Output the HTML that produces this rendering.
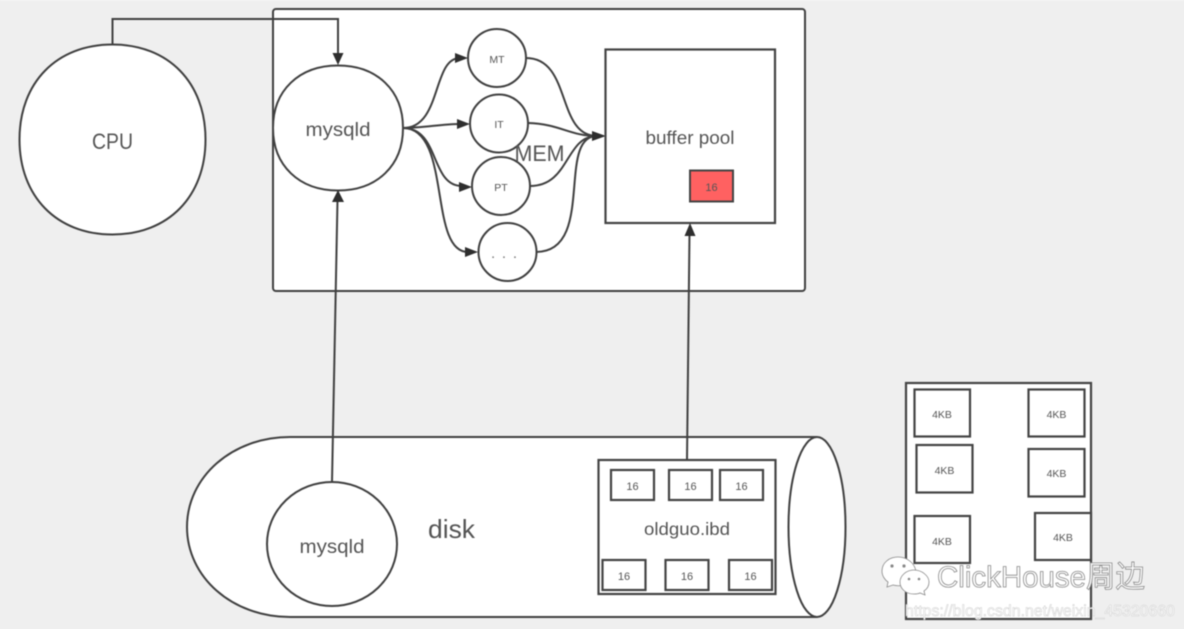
<!DOCTYPE html>
<html><head><meta charset="utf-8"><style>
html,body{margin:0;padding:0;background:#efefef;width:1184px;height:629px;overflow:hidden}
svg{display:block;filter:blur(.45px)}
text{font-family:"Liberation Sans","Noto Sans CJK SC",sans-serif;fill:#555;text-anchor:middle}
.s{fill:#fff;stroke:#404040;stroke-width:2}
.l{fill:none;stroke:#404040;stroke-width:2}
.b{fill:#fff;stroke:#444;stroke-width:2.2}
.a{fill:#2e2e2e;stroke:none}
</style></head><body>
<svg width="1184" height="629" viewBox="0 0 1184 629" xmlns="http://www.w3.org/2000/svg">
<rect x="0" y="0" width="1184" height="629" fill="#efefef"/>
<rect x="0" y="0" width="1184" height="1" fill="#f6f6f6"/>

<!-- memory frame -->
<rect class="s" x="273" y="9" width="532" height="282" rx="3" stroke-width="2.2"/>

<!-- CPU -->
<path class="s" d="M112.500 44.500C168.300 44.500 205.500 82.500 205.500 139.500C205.500 196.500 168.300 234.500 112.500 234.500C56.700 234.500 19.500 196.500 19.500 139.500C19.500 82.500 56.700 44.500 112.500 44.500Z"/>
<text x="112.500" y="149" font-size="22" textLength="41" lengthAdjust="spacingAndGlyphs">CPU</text>
<path class="l" d="M112.500 44V19H338V55"/>
<polygon class="a" points="338,65 332.500,53 343.500,53"/>

<!-- mysqld -->
<path class="s" d="M338 65.500C377 65.500 403 90.500 403 128C403 165.500 377 190.500 338 190.500C299 190.500 273 165.500 273 128C273 90.500 299 65.500 338 65.500Z"/>
<text x="338" y="136" font-size="19" textLength="65" lengthAdjust="spacingAndGlyphs">mysqld</text>

<!-- left curves -->
<path class="l" d="M403 128C442 128 432 58 460 58"/>
<path class="l" d="M403 128C425 128 440 124 460 124"/>
<path class="l" d="M403 128C440 128 430 186 462 186"/>
<path class="l" d="M403 128C452 128 428 252 468 252"/>
<polygon class="a" points="468,58 455,53 455,63"/>
<polygon class="a" points="470,124 457,119 457,129"/>
<polygon class="a" points="472,187 459,182 459,192"/>
<polygon class="a" points="478,252 465,247 465,257"/>

<!-- right curves -->
<path class="l" d="M526 58C572 58 556 136 597 136"/>
<path class="l" d="M528 123C560 124 570 136 597 136"/>
<path class="l" d="M530 186C570 186 565 136 597 136"/>
<path class="l" d="M536 252C596 252 556 136 597 136"/>
<polygon class="a" points="606,136 592,131 592,141"/>

<!-- thread circles -->
<circle class="s" cx="497" cy="58" r="29"/>
<text x="497" y="63" font-size="10.500">MT</text>
<circle class="s" cx="499" cy="123.500" r="29"/>
<text x="499" y="128" font-size="10.500">IT</text>
<circle class="s" cx="501" cy="186" r="29"/>
<text x="501" y="191" font-size="10.500">PT</text>
<circle class="s" cx="507.500" cy="252" r="29"/>
<text x="504" y="258" font-size="15" textLength="26" style="fill:#777">. . .</text>
<text x="539.500" y="161" font-size="22" textLength="50" lengthAdjust="spacingAndGlyphs">MEM</text>

<!-- buffer pool -->
<rect class="b" x="605.500" y="49.500" width="169.500" height="173.500"/>
<text x="690" y="144" font-size="18" textLength="89" lengthAdjust="spacingAndGlyphs">buffer pool</text>
<rect x="690" y="170.500" width="43" height="31" fill="#ff6161" stroke="#444" stroke-width="2"/>
<text x="711.500" y="191" font-size="11">16</text>

<!-- disk -->
<path class="s" d="M817 437H290C232 437 187 477 187 527C187 577 232 617 290 617H817"/>
<ellipse class="s" cx="817" cy="527" rx="28.500" ry="90"/>
<text x="451.500" y="538" font-size="26" textLength="47" lengthAdjust="spacingAndGlyphs">disk</text>

<ellipse class="s" cx="332" cy="544" rx="65" ry="62"/>
<text x="332" y="553" font-size="19" textLength="65" lengthAdjust="spacingAndGlyphs">mysqld</text>

<!-- oldguo -->
<rect class="b" x="598.500" y="460" width="177" height="134"/>
<text x="687" y="535" font-size="17.500" textLength="86" lengthAdjust="spacingAndGlyphs">oldguo.ibd</text>
<rect class="b" x="611" y="470" width="43" height="30"/><text x="632.500" y="490" font-size="11">16</text>
<rect class="b" x="669" y="470" width="43" height="30"/><text x="690.500" y="490" font-size="11">16</text>
<rect class="b" x="720" y="470" width="43" height="30"/><text x="741.500" y="490" font-size="11">16</text>
<rect class="b" x="602.500" y="560" width="43" height="30"/><text x="624" y="580" font-size="11">16</text>
<rect class="b" x="665.500" y="560" width="43" height="30"/><text x="687" y="580" font-size="11">16</text>
<rect class="b" x="729" y="560" width="43" height="30"/><text x="750.500" y="580" font-size="11">16</text>

<!-- vertical connectors -->
<path class="l" d="M332 482L337.500 200"/>
<polygon class="a" points="338,190 332,202 344,202"/>
<path class="l" d="M687 460L689.500 233"/>
<polygon class="a" points="690,223 684.500,236 695.500,236"/>

<!-- 4KB panel -->
<rect class="b" x="906" y="383" width="185" height="236"/>
<rect class="b" x="914.500" y="389.500" width="55.500" height="47"/><text x="942" y="418" font-size="10.500">4KB</text>
<rect class="b" x="1028.500" y="389.500" width="56" height="47"/><text x="1056.500" y="418" font-size="10.500">4KB</text>
<rect class="b" x="916.500" y="445" width="56" height="47.500"/><text x="944.500" y="474" font-size="10.500">4KB</text>
<rect class="b" x="1028.500" y="449" width="56" height="47.500"/><text x="1056.500" y="477" font-size="10.500">4KB</text>
<rect class="b" x="914.500" y="516" width="55.500" height="47"/><text x="942" y="545" font-size="10.500">4KB</text>
<rect class="b" x="1035" y="513" width="56" height="47"/><text x="1063" y="541" font-size="10.500">4KB</text>

<!-- watermark -->
<g fill="#fff" stroke="#8a8a8a" stroke-width=".8">
<path d="M898 557C889 557 882 563 882 571C882 576 885 580 888 582L887 587L893 585C897 586 902 586 905 584L916 572C915 563 907 557 898 557Z"/>
<path d="M914 570C906 570 900 576 900 582C900 589 906 594 914 594C916 594 918 594 920 593L925 595L924 591C927 589 929 586 929 582C929 576 922 570 914 570Z"/>
</g>
<circle cx="892" cy="566" r="1.600" fill="#888"/><circle cx="904" cy="566" r="1.600" fill="#888"/>
<circle cx="909" cy="579" r="1.300" fill="#888"/><circle cx="919" cy="579" r="1.300" fill="#888"/>
<text x="1041" y="587" font-size="30" textLength="208" lengthAdjust="spacingAndGlyphs" style="fill:#fff;stroke:#8a8a8a;stroke-width:.8">ClickHouse周边</text>
<text x="1040" y="616" font-size="16" textLength="270" lengthAdjust="spacingAndGlyphs" style="fill:#fff;stroke:#cfcfcf;stroke-width:.5">https://blog.csdn.net/weixin_45320660</text>
</svg>
</body></html>
